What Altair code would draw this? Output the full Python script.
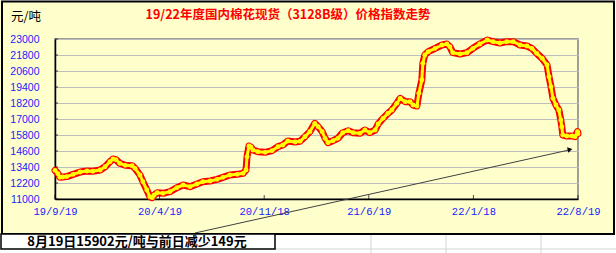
import altair as alt
import pandas as pd

# ---- data ----
dates = [
    "2019-09-19", "2019-09-25", "2019-09-29", "2019-10-05", "2019-10-13", "2019-10-26",
    "2019-11-09", "2019-11-23", "2019-12-05", "2019-12-20", "2019-12-30", "2020-01-09",
    "2020-01-15", "2020-01-21", "2020-01-29", "2020-02-09", "2020-02-23", "2020-02-29",
    "2020-03-10", "2020-03-16", "2020-03-24", "2020-03-30", "2020-04-04", "2020-04-08",
    "2020-04-14", "2020-04-26", "2020-05-10", "2020-05-24", "2020-06-06", "2020-06-20",
    "2020-07-04", "2020-07-16", "2020-07-31", "2020-08-14", "2020-08-26", "2020-09-09",
    "2020-09-24", "2020-10-06", "2020-10-12", "2020-10-14", "2020-10-18", "2020-10-22",
    "2020-10-26", "2020-11-05", "2020-11-20", "2020-12-04", "2020-12-16", "2020-12-26",
    "2021-01-05", "2021-01-20", "2021-01-30", "2021-02-09", "2021-02-19", "2021-03-01",
    "2021-03-08", "2021-03-16", "2021-03-22", "2021-03-28", "2021-04-07", "2021-04-17",
    "2021-04-27", "2021-05-08", "2021-05-18", "2021-06-01", "2021-06-11", "2021-06-21",
    "2021-07-02", "2021-07-08", "2021-07-18", "2021-07-28", "2021-08-05", "2021-08-15",
    "2021-08-22", "2021-09-01", "2021-09-11", "2021-09-17", "2021-09-25", "2021-09-29",
    "2021-10-05", "2021-10-07", "2021-10-11", "2021-10-18", "2021-11-01", "2021-11-15",
    "2021-11-25", "2021-12-01", "2021-12-07", "2021-12-22", "2022-01-05", "2022-01-17",
    "2022-01-31", "2022-02-15", "2022-02-27", "2022-03-13", "2022-03-27", "2022-04-09",
    "2022-04-23", "2022-05-07", "2022-05-17", "2022-05-27", "2022-06-07", "2022-06-17",
    "2022-06-21", "2022-06-25", "2022-06-29", "2022-07-05", "2022-07-11", "2022-07-15",
    "2022-07-17", "2022-07-19", "2022-07-27", "2022-08-07", "2022-08-13", "2022-08-18",
    "2022-08-19",
]
prices = [
    13150, 12900, 12630, 12650, 12680, 12850,
    13020, 13100, 13080, 13175, 13420, 13800,
    14000, 13950, 13675, 13525, 13500, 13300,
    12800, 12300, 11675, 11175, 11100, 11300,
    11475, 11425, 11550, 11850, 12050, 11925,
    12125, 12300, 12350, 12475, 12625, 12800,
    12850, 12925, 13175, 14175, 14975, 14900,
    14675, 14550, 14500, 14625, 14925, 15050,
    15350, 15275, 15325, 15675, 16050, 16675,
    16425, 16050, 15550, 15225, 15375, 15550,
    15975, 16125, 15975, 15925, 16175, 15975,
    16175, 16625, 17050, 17425, 17675, 18175,
    18550, 18300, 18300, 18050, 17975, 18925,
    19925, 21175, 21800, 22050, 22300, 22550,
    22625, 22425, 21975, 21875, 21975, 22300,
    22625, 22925, 22800, 22700, 22800, 22800,
    22550, 22475, 22300, 21925, 21550, 21050,
    20175, 19425, 18550, 18050, 17675, 16925,
    16425, 15800, 15725, 15725, 15675, 16051,
    15902,
]
x_tick_dates = ["2019-09-19", "2020-04-19", "2020-11-18", "2021-06-19", "2022-01-18", "2022-08-19"]
y_tick_values = [11000, 12200, 13400, 14600, 15800, 17000, 18200, 19400, 20600, 21800, 23000]

title_text = "19/22年度国内棉花现货（3128B级）价格指数走势"
unit_text = "元/吨"
note_text = "8月19日15902元/吨与前日减少149元"

df = pd.DataFrame({"date": pd.to_datetime(dates), "price": prices})
xt = pd.DataFrame({"date": pd.to_datetime(x_tick_dates)})
yt = pd.DataFrame({"price": y_tick_values})
one = pd.DataFrame({"k": [0]})


def dt(s):
    t = pd.Timestamp(s)
    return alt.DateTime(year=t.year, month=t.month, date=t.day)


x_scale = alt.Scale(domain=[dt(x_tick_dates[0]), dt(x_tick_dates[-1])])
y_scale = alt.Scale(domain=[11000, 23000], nice=False, zero=False)

x_axis = alt.Axis(
    values=[dt(s) for s in x_tick_dates],
    tickCount=len(x_tick_dates) + 4,
    format="%y/%-m/%-d",
    title=None,
    grid=False,
    ticks=False,
    labelFlush=False,
    labelOverlap=False,
    labelColor="#2020FF",
    labelFont="Liberation Mono",
    labelFontSize=10.5,
    labelPadding=7,
    domainColor="#000000",
    domainWidth=1.5,
)
y_axis = alt.Axis(
    values=y_tick_values,
    tickCount=len(y_tick_values) + 4,
    format="d",
    title=None,
    grid=True,
    gridColor="#BDBDBD",
    gridWidth=1,
    ticks=False,
    labelFlush=False,
    labelOverlap=False,
    labelColor="#2020FF",
    labelFont="Liberation Sans",
    labelFontSize=10.5,
    labelPadding=16,
    domainColor="#000000",
    domainWidth=1.5,
)

# white spreadsheet areas outside the chart box
white_bottom = alt.Chart(one).mark_rect(color="#FFFFFF").encode(
    x=alt.value(-55), x2=alt.value(561), y=alt.value(195), y2=alt.value(214))
white_right = alt.Chart(one).mark_rect(color="#FFFFFF").encode(
    x=alt.value(559), x2=alt.value(561), y=alt.value(-39), y2=alt.value(214))
white_top = alt.Chart(one).mark_rect(color="#FFFFFF").encode(
    x=alt.value(-55), x2=alt.value(561), y=alt.value(-39), y2=alt.value(-38))

sheet_v = pd.DataFrame({"x": [316, 391, 486], "k": [0, 1, 2]})
sheet_lines_v = alt.Chart(sheet_v).mark_rule(color="#D4D4D4", strokeWidth=1).encode(
    x=alt.X("x:Q", scale=None), y=alt.value(196), y2=alt.value(214))
sheet_lines_h = alt.Chart(one).mark_rule(color="#D4D4D4", strokeWidth=1).encode(
    x=alt.value(220), x2=alt.value(561), y=alt.value(210))

frame = alt.Chart(one).mark_rect(fill="transparent", stroke="#000000", strokeWidth=2).encode(
    x=alt.value(-53), x2=alt.value(559), y=alt.value(-37.5), y2=alt.value(195))

x_ticks = alt.Chart(xt).mark_tick(color="#000000", thickness=1, size=4, orient="vertical").encode(
    x=alt.X("date:T", scale=x_scale, axis=x_axis), y=alt.value(158))
y_ticks = alt.Chart(yt).mark_tick(color="#000000", thickness=1, size=3, orient="horizontal").encode(
    y=alt.Y("price:Q", scale=y_scale, axis=y_axis), x=alt.value(1.5))

line = alt.Chart(df).mark_line(color="#FF0000", strokeWidth=7, strokeJoin="round", strokeCap="round").encode(
    x=alt.X("date:T", scale=x_scale, axis=x_axis), y=alt.Y("price:Q", scale=y_scale, axis=y_axis))
line_in = alt.Chart(df).mark_line(color="#FFFF00", strokeWidth=3, strokeJoin="round", strokeCap="round").encode(
    x="date:T", y="price:Q")
dots = alt.Chart(df).mark_circle(color="#FFFF00", size=24, opacity=1).encode(
    x="date:T", y="price:Q")

arrow_line = alt.Chart(one).mark_rule(color="#404040", strokeWidth=1).encode(
    x=alt.value(140), y=alt.value(194), x2=alt.value(514), y2=alt.value(111))
arrow_head = alt.Chart(one).mark_point(shape="triangle-right", filled=True, size=30,
                                       angle=347.5, color="#000000", opacity=1).encode(
    x=alt.value(515), y=alt.value(110.5))

title = alt.Chart(one).mark_text(text=title_text, font="Noto Sans CJK SC", fontSize=12.5,
                                 fontWeight="bold", color="#FF0000").encode(
    x=alt.value(233), y=alt.value(-24))
unit = alt.Chart(one).mark_text(text=unit_text, font="Noto Sans CJK SC", fontSize=12.5,
                                color="#000000").encode(
    x=alt.value(-29), y=alt.value(-22))

note_box = alt.Chart(one).mark_rect(fill="#FFFFFF", stroke="#000000", strokeWidth=1.5).encode(
    x=alt.value(-54), x2=alt.value(220), y=alt.value(195), y2=alt.value(210))
note = alt.Chart(one).mark_text(text=note_text, font="Noto Sans CJK SC", fontSize=13,
                                fontWeight="bold", color="#000000").encode(
    x=alt.value(82), y=alt.value(203))

chart = alt.layer(
    white_bottom, white_right, white_top, sheet_lines_v, sheet_lines_h,
    line, line_in, dots, x_ticks, y_ticks, frame, arrow_line, arrow_head,
    title, unit, note_box, note,
).properties(
    width=523, height=160,
    autosize=alt.AutoSizeParams(type="none"),
    padding={"left": 55, "top": 39, "right": 38, "bottom": 54},
    background="#FFFFCC",
).configure_view(
    fill="#FFFFCC", stroke="#808080", strokeWidth=1.5
).configure_axis(
    labelOverlap=False
)

chart.save("out.html", embed_options={"renderer": "svg", "actions": False})
